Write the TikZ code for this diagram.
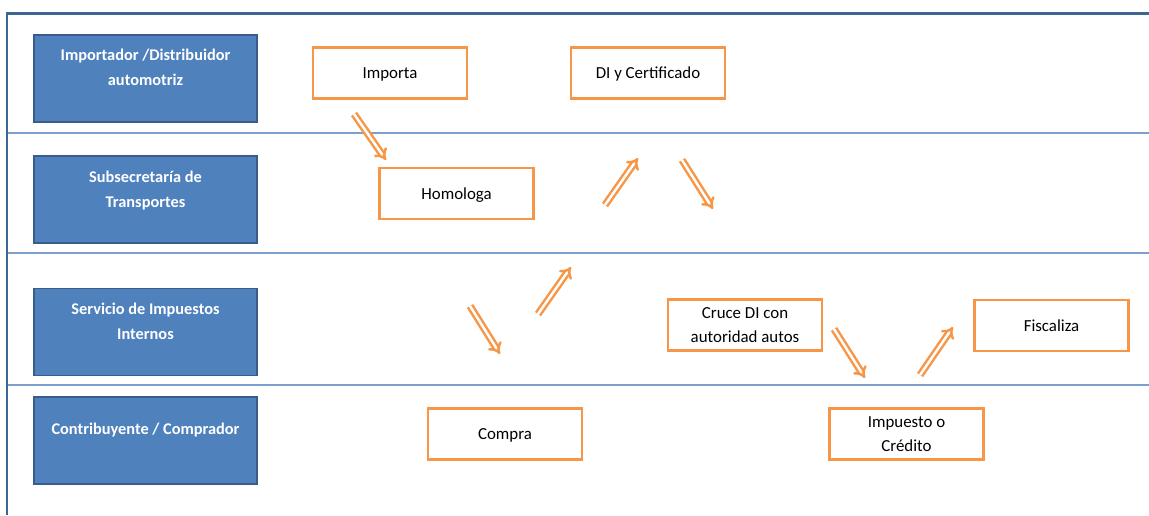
\documentclass[tikz,border=0pt]{standalone}
\usepackage{fontspec}
\setmainfont{Carlito}
\usetikzlibrary{arrows.meta}
\definecolor{lanefill}{HTML}{4F81BD}
\definecolor{laneedge}{HTML}{385D8A}
\definecolor{frameblue}{HTML}{3F6593}
\definecolor{lineblue}{HTML}{7BA0CD}
\definecolor{taskorange}{HTML}{F79646}
\begin{document}
\begin{tikzpicture}
        [
            x=0.02cm, y=-0.02cm,
            lane/.style = {draw=laneedge, fill=lanefill, line width=1pt, minimum width=4.46cm, minimum height=1.74cm, inner sep=0pt},
            lanetext/.style = {anchor=north, align=center, text=white, font=\bfseries\fontsize{9.3}{14}\selectfont, inner sep=0pt},
            task/.style = {draw=taskorange, line width=1.6pt, minimum width=3.08cm, minimum height=1.02cm, align=center, font=\fontsize{9.6}{14}\selectfont, inner sep=0pt, text depth=0pt},
            flow/.style = {draw=taskorange, line width=1.4pt, double=white, double distance=1.4pt, -{Implies}},
            laneline/.style = {draw=lineblue, line width=1.1pt},
        ]
        \useasboundingbox (0,0) rectangle (1149,515);
        \draw[laneline] (7,133) -- (1149,133);
        \draw[laneline] (7,253) -- (1149,253);
        \draw[laneline] (7,385) -- (1149,385);
        \draw[frameblue, line width=1.7pt] (7,515) -- (7,13) -- (1149,13);
        \node [lane, label={[lanetext, yshift=-0.3cm]north:{Importador /Distribuidor\\automotriz}}] (importer) at (145.5,78.5) {};
        \node [lane, label={[lanetext, yshift=-0.32cm]north:{Subsecretaría de\\Transportes}}] (subsec) at (145.5,199.5) {};
        \node [lane, label={[lanetext, yshift=-0.3cm]north:{Servicio de Impuestos\\Internos}}] (sii) at (145.5,332) {};
        \node [lane, label={[lanetext, yshift=-0.54cm]north:{Contribuyente / Comprador}}] (buyer) at (145.5,440.5) {};
        \node [task] (importa) at (390,73) {Importa};
        \node [task] (dicert) at (648,73) {DI y Certificado};
        \node [task] (homologa) at (456.5,193.5) {Homologa};
        \node [task] (cruce) at (745,325) {Cruce DI con\\autoridad autos};
        \node [task] (fiscaliza) at (1051.5,325.5) {Fiscaliza};
        \node [task] (compra) at (505,434) {Compra};
        \node [task] (impuesto) at (906.5,434) {Impuesto o\\Crédito};
        \coordinate (f1s) at (354,114);
        \coordinate (f1e) at (386,160);
        \coordinate (f2s) at (605,205);
        \coordinate (f2e) at (638,158);
        \coordinate (f3s) at (682,160);
        \coordinate (f3e) at (713,209);
        \coordinate (f4s) at (470,306);
        \coordinate (f4e) at (500,354);
        \coordinate (f5s) at (538,314);
        \coordinate (f5e) at (571,267);
        \coordinate (f6s) at (834,329);
        \coordinate (f6e) at (865,378);
        \coordinate (f7s) at (920,375);
        \coordinate (f7e) at (953,327);
        \draw[flow] (f1s) -- (f1e);
        \draw[flow] (f2s) -- (f2e);
        \draw[flow] (f3s) -- (f3e);
        \draw[flow] (f4s) -- (f4e);
        \draw[flow] (f5s) -- (f5e);
        \draw[flow] (f6s) -- (f6e);
        \draw[flow] (f7s) -- (f7e);
    \end{tikzpicture}
\end{document}
